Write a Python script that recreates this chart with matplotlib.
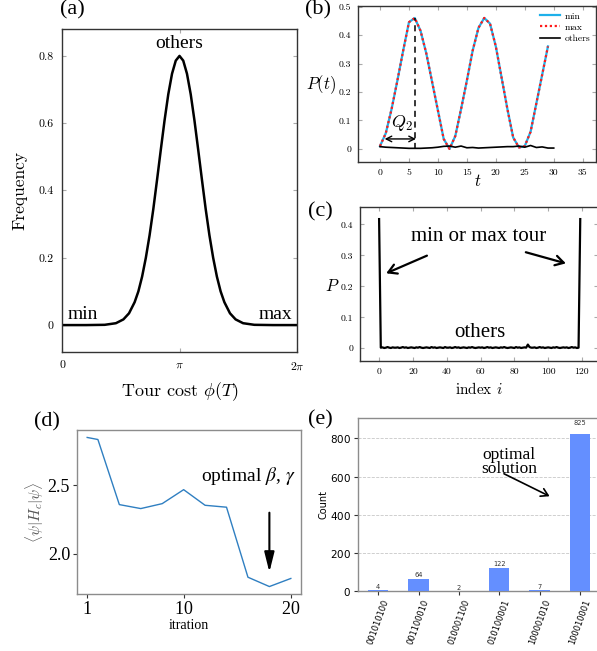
import matplotlib
matplotlib.use('Agg')
import matplotlib.pyplot as plt
import numpy as np

plt.rcParams['mathtext.fontset'] = 'cm'
plt.rcParams['axes.unicode_minus'] = False
plt.rcParams['axes.formatter.use_mathtext'] = True

TIMES = 'Liberation Serif'
CM = 'cmr10'
SANS = 'DejaVu Sans'

W, H = 597, 651

def rect(l, t, r, b):
    return [l / W, 1 - b / H, (r - l) / W, (b - t) / H]

# ---------------- data ----------------
# (a) frequency of tour cost
phi_a = [0.0, 0.6416, 1.1416, 1.4416, 1.6416, 1.7916, 1.9416, 2.0416, 2.1416, 2.2416,
         2.3416, 2.4416, 2.5416, 2.6416, 2.7416, 2.8416, 2.9416, 3.0416,
         3.1416,
         3.2416, 3.3416, 3.4416, 3.5416, 3.6416, 3.7416, 3.8416, 3.9416, 4.0416,
         4.1416, 4.2416, 4.3416, 4.4916, 4.6416, 4.8416, 5.1416, 5.6416, 6.2832]
freq_a = [0.0, 0.0, 0.0008, 0.0056, 0.0169, 0.035, 0.068, 0.100, 0.144, 0.200,
          0.267, 0.345, 0.432, 0.521, 0.608, 0.686, 0.747, 0.786,
          0.800,
          0.786, 0.747, 0.686, 0.608, 0.521, 0.432, 0.345, 0.267, 0.200,
          0.144, 0.100, 0.068, 0.035, 0.0169, 0.0056, 0.0008, 0.0, 0.0]

# (b) probability vs time
t_b = list(range(30))
p_min_b = [0.010, 0.055, 0.140, 0.240, 0.345, 0.445, 0.460, 0.415, 0.335, 0.235,
           0.135, 0.035, 0.000, 0.045, 0.140, 0.240, 0.345, 0.425, 0.460, 0.440,
           0.360, 0.250, 0.140, 0.040, 0.005, 0.010, 0.060, 0.160, 0.260, 0.360]
p_max_b = [0.010, 0.055, 0.140, 0.240, 0.345, 0.445, 0.460, 0.415, 0.335, 0.235,
           0.135, 0.035, 0.000, 0.045, 0.140, 0.240, 0.345, 0.425, 0.460, 0.440,
           0.360, 0.250, 0.140, 0.040, 0.005, 0.010, 0.060, 0.160, 0.260, 0.360]
t_oth_b = list(range(31))
p_oth_b = [0.008, 0.006, 0.005, 0.004, 0.003, 0.002, 0.002, 0.002, 0.003, 0.004,
           0.006, 0.009, 0.010, 0.006, 0.010, 0.004, 0.005, 0.003, 0.004, 0.005,
           0.006, 0.007, 0.008, 0.008, 0.010, 0.006, 0.012, 0.005, 0.007, 0.003, 0.003]
q2_time = 6

# (c) probability per tour index
idx_c = list(range(120))
p_c = ([0.417] +
       [0.002, 0.003, 0.001, 0.002, 0.004, 0.002, 0.001, 0.003, 0.002, 0.002,
        0.003, 0.001, 0.002, 0.004, 0.002, 0.003, 0.001, 0.002, 0.003, 0.002,
        0.001, 0.003, 0.002, 0.004, 0.002, 0.001, 0.002, 0.003, 0.002, 0.001,
        0.004, 0.002, 0.003, 0.001, 0.002, 0.003, 0.002, 0.001, 0.004, 0.002,
        0.002, 0.003, 0.001, 0.002, 0.004, 0.002, 0.003, 0.001, 0.002, 0.003,
        0.002, 0.001, 0.003, 0.002, 0.004, 0.002, 0.001, 0.002, 0.003, 0.002,
        0.003, 0.001, 0.002, 0.004, 0.002, 0.003, 0.001, 0.002, 0.003, 0.002,
        0.001, 0.003, 0.002, 0.004, 0.002, 0.001, 0.002, 0.003, 0.002, 0.001,
        0.004, 0.002, 0.003, 0.001, 0.002, 0.003, 0.002, 0.012, 0.004, 0.002,
        0.002, 0.003, 0.001, 0.002, 0.004, 0.002, 0.003, 0.001, 0.002, 0.003,
        0.002, 0.001, 0.003, 0.002, 0.004, 0.002, 0.001, 0.002, 0.003, 0.002,
        0.003, 0.001, 0.002, 0.004, 0.002, 0.003, 0.001, 0.002] +
       [0.417])

# (d) energy vs iteration
iters_d = [1, 2, 4, 6, 8, 10, 12, 14, 16, 18, 20]
energy_d = [2.849, 2.834, 2.359, 2.330, 2.366, 2.468, 2.354, 2.340, 1.829, 1.761, 1.820]
optimal_iter = 18

# (e) counts histogram
states_e = ['001010100', '001100010', '010001100', '010100001', '100001010', '100010001']
counts_e = [4, 64, 2, 122, 7, 825]

# ---------------- figure ----------------
fig = plt.figure(figsize=(W / 100, H / 100), dpi=100)

SPINE_DARK = '#333333'
TICK_GRAY = '#aaaaaa'

# ===== (a) =====
axa = fig.add_axes(rect(62, 29, 297, 352))
axa.plot(phi_a, freq_a, color='k', lw=1.8)
axa.set_xlim(0, 2 * np.pi)
axa.set_ylim(-0.08, 0.88)
axa.set_xticks([0, np.pi, 2 * np.pi])
axa.set_xticklabels(['0', r'$\pi$', r'$2\pi$'])
axa.set_yticks([0, 0.2, 0.4, 0.6, 0.8])
axa.set_yticklabels(['0', '0.2', '0.4', '0.6', '0.8'])
axa.tick_params(direction='in', top=True, right=True, color=TICK_GRAY, length=3,
                labelsize=8.5, pad=6)
for lab in axa.get_xticklabels() + axa.get_yticklabels():
    lab.set_fontfamily(CM)
for s in axa.spines.values():
    s.set_color(SPINE_DARK); s.set_linewidth(1.0)
axa.set_xlabel(r'Tour cost $\phi(T)$', fontsize=13, fontfamily=CM, labelpad=6)
axa.set_ylabel('Frequency', fontsize=12.5, fontfamily=CM, labelpad=8)
axa.text(np.pi, 0.838, 'others', fontsize=14, fontfamily=TIMES, ha='center', va='center')
axa.text(0.15, 0.03, 'min', fontsize=14, fontfamily=TIMES, ha='left', va='center')
axa.text(6.15, 0.03, 'max', fontsize=14, fontfamily=TIMES, ha='right', va='center')

# ===== (b) =====
axb = fig.add_axes(rect(358, 6, 596, 162))
axb.plot(t_b, p_min_b, color='#1eb0ea', lw=1.6, label='min')
axb.plot(t_b, p_max_b, color='#ff1a1a', lw=1.6, ls=(0, (1, 1.2)), label='max')
axb.plot(t_oth_b, p_oth_b, color='k', lw=1.2, label='others')
axb.vlines(t_b[q2_time], 0, p_min_b[q2_time], colors='k', linestyles=(0, (4, 3)), lw=1.1)
axb.annotate('', xy=(0.8, 0.035), xytext=(t_b[q2_time] + 0.2, 0.035),
             arrowprops=dict(arrowstyle='<->', color='k', lw=1.0, shrinkA=0, shrinkB=0))
axb.text(3.85, 0.09, r'$Q_2$', fontsize=13, ha='center', va='center')
axb.set_xlim(-3.8, 37.3)
axb.set_ylim(-0.046, 0.502)
axb.set_xticks([0, 5, 10, 15, 20, 25, 30, 35])
axb.set_xticklabels(['0', '5', '10', '15', '20', '25', '30', '35'])
axb.set_yticks([0, 0.1, 0.2, 0.3, 0.4, 0.5])
axb.set_yticklabels(['0', '0.1', '0.2', '0.3', '0.4', '0.5'])
axb.tick_params(direction='in', top=True, right=True, color=TICK_GRAY, length=3,
                labelsize=7, pad=5)
for lab in axb.get_xticklabels() + axb.get_yticklabels():
    lab.set_fontfamily(CM)
for s in axb.spines.values():
    s.set_color(SPINE_DARK); s.set_linewidth(1.0)
leg = axb.legend(loc='upper right', bbox_to_anchor=(1.0, 1.0), frameon=False,
                 handlelength=2.0, labelspacing=0.25, borderaxespad=0.2,
                 handletextpad=0.5, prop={'family': CM, 'size': 7})
fig.text(321 / W, 1 - 85 / H, r'$P(t)$', fontsize=12, ha='center', va='center')
fig.text(478 / W, 1 - 181 / H, r'$t$', fontsize=12, ha='center', va='center')

# ===== (c) =====
axc = fig.add_axes(rect(360, 207, 598, 361))
axc.plot(idx_c, p_c, color='k', lw=1.6)
axc.set_xlim(-11.3, 129.5)
axc.set_ylim(-0.041, 0.456)
axc.set_xticks([0, 20, 40, 60, 80, 100, 120])
axc.set_xticklabels(['0', '20', '40', '60', '80', '100', '120'])
axc.set_yticks([0, 0.1, 0.2, 0.3, 0.4])
axc.set_yticklabels(['0', '0.1', '0.2', '0.3', '0.4'])
axc.tick_params(direction='in', top=True, right=True, color=TICK_GRAY, length=3,
                labelsize=7, pad=5)
for lab in axc.get_xticklabels() + axc.get_yticklabels():
    lab.set_fontfamily(CM)
for s in axc.spines.values():
    s.set_color(SPINE_DARK); s.set_linewidth(1.0)
axc.text(58.6, 0.36, 'min or max tour', fontsize=15, fontfamily=TIMES, ha='center', va='center')
axc.text(59.4, 0.05, 'others', fontsize=15, fontfamily=TIMES, ha='center', va='center')
axc.annotate('', xy=(4.2, 0.242), xytext=(28.3, 0.299),
             arrowprops=dict(arrowstyle='->,head_length=0.6,head_width=0.35', color='k', lw=1.6,
                             shrinkA=0, shrinkB=0))
axc.annotate('', xy=(110.5, 0.274), xytext=(86.8, 0.31),
             arrowprops=dict(arrowstyle='->,head_length=0.6,head_width=0.35', color='k', lw=1.6,
                             shrinkA=0, shrinkB=0))
fig.text(332 / W, 1 - 286 / H, r'$P$', fontsize=12, ha='center', va='center')
fig.text(479 / W, 1 - 389 / H, r'index $i$', fontsize=11, fontfamily=CM, ha='center', va='center')

# ===== (d) =====
axd = fig.add_axes(rect(77, 430, 301, 594))
axd.plot(iters_d, energy_d, color='#2f7fc1', lw=1.0)
axd.set_xticks([1, 10, 20])
axd.set_yticks([2.0, 2.5])
axd.set_yticklabels(['2.0', '2.5'])
axd.tick_params(direction='out', color='#333333', length=3, labelsize=13, pad=2)
for lab in axd.get_xticklabels() + axd.get_yticklabels():
    lab.set_fontfamily(TIMES)
for s in axd.spines.values():
    s.set_color('#8c8c8c'); s.set_linewidth(1.0)
axd.set_xlabel('itration', fontsize=10, fontfamily=TIMES, labelpad=1)
axd.set_ylabel(r'$\langle\psi|H_c|\psi\rangle$', fontsize=11, color='#555555', labelpad=1)
axd.text(11.6, 2.57, r'optimal $\beta$, $\gamma$', fontsize=14, fontfamily=TIMES,
         math_fontfamily='stix', ha='left', va='center')
axd.annotate('', xy=(optimal_iter, 1.866), xytext=(optimal_iter, 2.30),
             arrowprops=dict(arrowstyle='-|>,head_length=0.6,head_width=0.15', color='k',
                             lw=1.5, mutation_scale=20, shrinkA=0, shrinkB=0))

# ===== (e) =====
axe = fig.add_axes(rect(358, 418, 600, 591))
xpos = np.arange(len(states_e))
bars = axe.bar(xpos, counts_e, width=0.5, color='#648fff', zorder=3)
for x, c in zip(xpos, counts_e):
    axe.text(x, 1.05 * c, str(c), ha='center', va='bottom', fontsize=4.8, fontfamily=SANS,
             color='#333333')
axe.set_xlim(-0.5, len(states_e) - 0.5)
axe.set_ylim(0, 1.1 * max(counts_e))
axe.set_xticks(xpos)
axe.set_xticklabels(states_e, rotation=70, fontsize=6, fontfamily=SANS)
axe.set_yticks([0, 200, 400, 600, 800])
axe.tick_params(axis='y', labelsize=7.5, length=3, color='#333333', pad=2)
axe.tick_params(axis='x', length=3, color='#333333', pad=2)
axe.grid(axis='y', ls='--', color='#c8c8c8', lw=0.6, zorder=0)
for s in axe.spines.values():
    s.set_color('#8c8c8c'); s.set_linewidth(1.0)
axe.set_ylabel('Count', fontsize=7, fontfamily=SANS, labelpad=1)
axe.text(3.25, 675, 'optimal\nsolution', fontsize=12.5, fontfamily=TIMES, ha='center',
         va='center', linespacing=0.85)
axe.annotate('', xy=(4.25, 497), xytext=(3.12, 615),
             arrowprops=dict(arrowstyle='->,head_length=0.5,head_width=0.3', color='k',
                             lw=1.2, shrinkA=0, shrinkB=0))

# panel labels
for lab, (x, y) in {'(a)': (72, 10), '(b)': (318, 10), '(c)': (320, 212),
                    '(d)': (47, 422), '(e)': (320, 420)}.items():
    fig.text(x / W, 1 - y / H, lab, fontsize=16, fontfamily=TIMES, ha='center', va='center')

fig.savefig('out.png', dpi=100)
